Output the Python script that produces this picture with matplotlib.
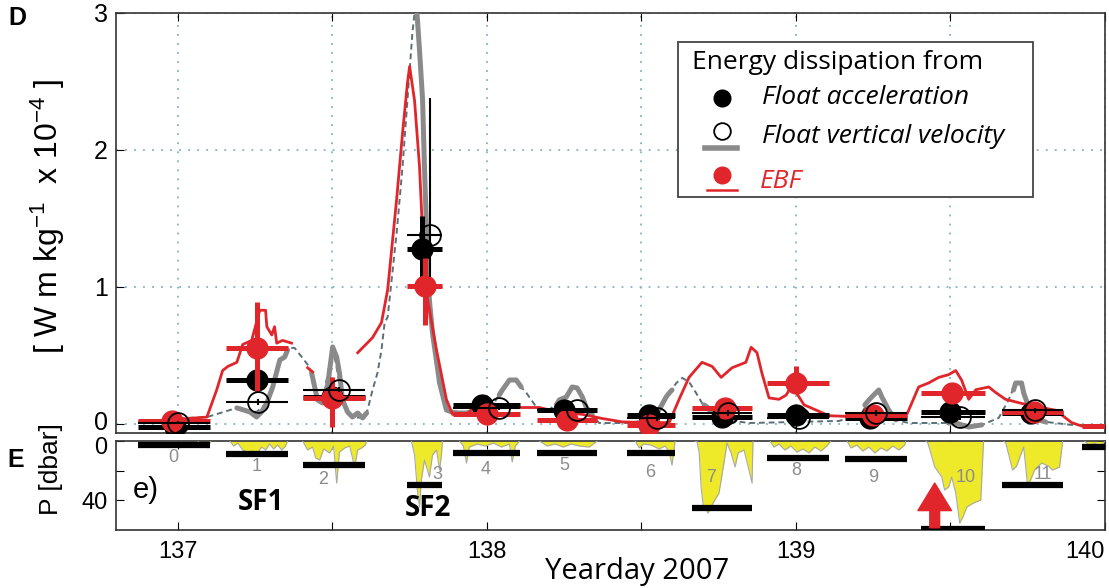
import numpy as np
import matplotlib.pyplot as plt
import matplotlib.transforms as mtransforms
from matplotlib.patches import Rectangle

plt.rcParams['font.family'] = ['Liberation Sans', 'DejaVu Sans']
plt.rcParams['mathtext.default'] = 'regular'

RED = '#e0262b'
GRAY = '#8a8a8a'
DASH = '#5b6f78'
GRID = '#7fb3c4'
YEL = '#eeea2a'
TXT = 'Open Sans'

# --- profile time spans (yearday) ---
prof_start = [136.871, 137.155, 137.404, 137.743, 137.889, 138.163, 138.454,
              138.664, 138.906, 139.158, 139.404, 139.666, 139.924]
prof_end = [137.103, 137.355, 137.607, 137.856, 138.108, 138.357, 138.609,
            138.858, 139.107, 139.359, 139.611, 139.863, 140.0]
prof_num = ['0', '1', '2', '3', '4', '5', '6', '7', '8', '9', '10', '11']
num_t = [136.985, 137.255, 137.47, 137.84, 137.995, 138.25, 138.53,
         138.725, 139.0, 139.25, 139.55, 139.80]
num_p = [11.5, 17.6, 26.4, 23.0, 19.0, 16.3, 21.0, 24.4, 19.7, 24.4, 25.0, 23.0]

# --- profile averaged dissipation (1e-4 W/kg) ---
acc_t = [136.99, 137.255, 137.50, 137.79, 137.985, 138.25, 138.525,
         138.76, 139.0, 139.24, 139.50, 139.76]
acc_e = [-0.02, 0.32, 0.20, 1.28, 0.14, 0.10, 0.065, 0.05, 0.065, 0.045, 0.09, 0.08]
acc_lo = [-0.04, 0.30, 0.18, 1.07, 0.12, 0.08, 0.045, 0.03, 0.045, 0.025, 0.07, 0.06]
acc_hi = [0.0, 0.34, 0.22, 1.52, 0.16, 0.12, 0.085, 0.07, 0.085, 0.065, 0.11, 0.10]

vel_t = [137.0, 137.258, 137.52, 137.815, 138.04, 138.29, 138.55,
         138.78, 139.01, 139.26, 139.53, 139.775]
vel_e = [0.01, 0.16, 0.25, 1.38, 0.12, 0.10, 0.04, 0.08, 0.04, 0.08, 0.05, 0.10]
vel_lo = [0.0, 0.14, 0.23, 1.07, 0.10, 0.08, 0.02, 0.06, 0.02, 0.06, 0.03, 0.08]
vel_hi = [0.02, 0.18, 0.27, 2.38, 0.14, 0.12, 0.06, 0.10, 0.06, 0.10, 0.07, 0.12]

ebf_t = [136.98, 137.255, 137.50, 137.80, 138.0, 138.26, 138.525,
         138.77, 139.0, 139.25, 139.505, 139.77, 140.04]
ebf_e = [0.02, 0.555, 0.19, 1.01, 0.07, 0.03, -0.01, 0.12, 0.30, 0.065, 0.225, 0.09, -0.015]
ebf_lo = [0.0, 0.23, -0.02, 0.72, 0.05, 0.01, -0.03, 0.10, 0.24, 0.045, 0.20, 0.07, -0.015]
ebf_hi = [0.04, 0.89, 0.34, 1.21, 0.09, 0.05, 0.01, 0.14, 0.42, 0.085, 0.25, 0.11, -0.015]

# --- continuous series ---
ebf_line_t = [136.877, 137.094, 137.126, 137.145, 137.162, 137.191, 137.21, 137.239,
              137.265, 137.284, 137.288, 137.304, 137.313, 137.32, 137.339, 137.368,
              137.39, 137.42, 137.436, 137.5,
              137.582, 137.63, 137.659, 137.679, 137.708, 137.727, 137.743, 137.75,
              137.766, 137.782, 137.792, 137.798, 137.808, 137.837, 137.869, 137.889,
              137.934, 137.976, 138.04, 138.095, 138.17, 138.225, 138.309, 138.373,
              138.438, 138.525, 138.59, 138.622, 138.654, 138.696, 138.729, 138.758,
              138.793, 138.838, 138.855, 138.874, 138.89, 138.913, 138.945, 138.968,
              138.987, 139.026, 139.107, 139.236, 139.359, 139.397, 139.43, 139.462,
              139.494, 139.517, 139.536, 139.559, 139.582, 139.624, 139.646, 139.678,
              139.73, 139.795, 139.84, 139.892, 139.924, 139.995]
ebf_line_e = [0.015, 0.05, 0.25, 0.39, 0.42, 0.45, 0.58, 0.61,
              0.83, 0.83, 0.71, 0.65, 0.71, 0.59, 0.61, 0.59,
              np.nan, 0.41, 0.38, np.nan,
              0.52, 0.63, 0.74, 0.98, 1.64, 2.12, 2.49, 2.61,
              2.36, 1.88, 1.39, 1.03, 0.91, 0.54, 0.18, 0.07,
              0.07, 0.16, 0.14, 0.12, 0.12, 0.09, 0.07, 0.04,
              0.015, 0.01, 0.01, 0.18, 0.34, 0.45, 0.42, 0.34,
              0.41, 0.45, 0.56, 0.52, 0.37, 0.19, 0.18, 0.21,
              0.28, 0.14, 0.06, 0.05, 0.07, 0.27, 0.30, 0.34,
              0.36, 0.39, 0.32, 0.18, 0.25, 0.27, 0.23, 0.18,
              0.15, 0.12, 0.10, 0.01, -0.015, -0.015]

w_t = [137.191, 137.233, 137.255, 137.271, 137.288, 137.307, 137.33, 137.346, 137.355,
       137.39,
       137.433, 137.452, 137.468, 137.485, 137.501, 137.514, 137.523, 137.533, 137.549,
       137.565, 137.582, 137.598, 137.611,
       137.7,
       137.772, 137.782, 137.792, 137.798, 137.805, 137.814, 137.824, 137.847, 137.869,
       137.895, 137.934, 137.976,
       138.0,
       138.04, 138.05, 138.073, 138.095, 138.111,
       138.2,
       138.225, 138.234, 138.257, 138.276, 138.292, 138.309, 138.321, 138.341,
       138.5,
       138.548, 138.557, 138.58, 138.59, 138.599,
       138.65,
       138.703, 138.725, 138.751, 138.774, 138.8,
       139.0,
       139.223, 139.236, 139.258, 139.268, 139.278, 139.3, 139.323,
       139.4,
       139.494, 139.517, 139.559, 139.601,
       139.65,
       139.704, 139.711, 139.73, 139.737, 139.753, 139.785, 139.808]
w_e = [0.117, 0.088, 0.051, 0.088, 0.153, 0.270, 0.467, 0.489, 0.540,
       np.nan,
       0.372, 0.175, 0.153, 0.285, 0.562, 0.489, 0.372, 0.175, 0.088,
       0.051, 0.080, 0.044, 0.080,
       np.nan,
       3.06, 2.73, 2.365, 1.876, 1.394, 0.905, 0.664, 0.299, 0.102,
       0.080, 0.080, 0.102,
       np.nan,
       0.212, 0.248, 0.321, 0.321, 0.270,
       np.nan,
       0.139, 0.175, 0.197, 0.270, 0.263, 0.197, 0.124, 0.066,
       np.nan,
       0.088, 0.102, 0.197, 0.226, 0.248,
       np.nan,
       0.139, 0.102, 0.044, 0.029, 0.022,
       np.nan,
       0.139, 0.175, 0.226, 0.248, 0.197, 0.102, 0.029,
       np.nan,
       0.007, 0.007, -0.022, -0.007,
       np.nan,
       0.248, 0.299, 0.299, 0.226, 0.124, 0.029, 0.015]

fit_t = [136.877, 137.029, 137.094, 137.191, 137.255, 137.288, 137.33, 137.362,
         137.378, 137.401, 137.426, 137.452, 137.468, 137.501, 137.533, 137.565,
         137.598, 137.614, 137.63, 137.646, 137.659, 137.669, 137.679, 137.708,
         137.727, 137.743, 137.759, 137.766, 137.772, 137.782, 137.792, 137.798,
         137.805, 137.814, 137.824, 137.847, 137.869, 137.934, 138.008, 138.05,
         138.073, 138.095, 138.111, 138.128, 138.16, 138.202, 138.234, 138.257,
         138.276, 138.292, 138.309, 138.321, 138.341, 138.363, 138.451, 138.525,
         138.557, 138.58, 138.59, 138.613, 138.632, 138.654, 138.677, 138.696,
         138.719, 138.774, 138.848, 139.01, 139.139, 139.21, 139.236, 139.258,
         139.268, 139.278, 139.3, 139.323, 139.365, 139.517, 139.559, 139.601,
         139.656, 139.688, 139.711, 139.73, 139.737, 139.753, 139.785, 139.808,
         139.892, 139.995]
fit_e = [0.015, 0.044, 0.05, 0.117, 0.088, 0.153, 0.467, 0.555,
         0.555, 0.489, 0.416, 0.175, 0.153, 0.569, 0.175, 0.051,
         0.044, 0.102, 0.248, 0.372, 0.540, 0.737, 0.781, 1.394,
         1.876, 2.365, 2.854, 3.0, 3.2, 2.73, 2.365, 1.876,
         1.394, 0.905, 0.664, 0.299, 0.102, 0.080, 0.102, 0.248,
         0.321, 0.321, 0.270, 0.226, 0.124, 0.102, 0.175, 0.197,
         0.270, 0.263, 0.197, 0.124, 0.066, 0.007, 0.007, 0.029,
         0.102, 0.197, 0.226, 0.299, 0.336, 0.307, 0.226, 0.153,
         0.088, 0.029, 0.007, 0.015, 0.022, 0.066, 0.175, 0.226,
         0.248, 0.197, 0.102, 0.029, 0.007, 0.007, -0.022, -0.007,
         0.044, 0.175, 0.299, 0.299, 0.226, 0.124, 0.029, 0.015,
         -0.007, -0.007]

# --- float pressure during each profile (dbar) ---
press_t = [
    [137.065, 137.078, 137.087, 137.097, 137.107],
    [137.168, 137.181, 137.194, 137.21, 137.226, 137.242, 137.258, 137.271, 137.284,
     137.297, 137.31, 137.323, 137.336, 137.349, 137.355],
    [137.404, 137.42, 137.436, 137.446, 137.459, 137.472, 137.491, 137.504, 137.514,
     137.523, 137.54, 137.556, 137.572, 137.582, 137.595, 137.607, 137.611],
    [137.756, 137.766, 137.775, 137.782, 137.788, 137.798, 137.808, 137.814, 137.824,
     137.837, 137.847, 137.853, 137.856],
    [137.911, 137.924, 137.934, 137.943, 137.969, 137.995, 138.021, 138.047, 138.073,
     138.082, 138.092, 138.105],
    [138.17, 138.195, 138.221, 138.247, 138.273, 138.299, 138.331, 138.357],
    [138.48, 138.493, 138.506, 138.531, 138.557, 138.577, 138.59, 138.599, 138.609],
    [138.674, 138.68, 138.687, 138.693, 138.7, 138.716, 138.732, 138.751, 138.767,
     138.777, 138.79, 138.803, 138.813, 138.832, 138.848, 138.858, 138.861],
    [138.916, 138.929, 138.945, 138.964, 138.984, 139.003, 139.023, 139.042, 139.061,
     139.081, 139.1, 139.113],
    [139.165, 139.178, 139.197, 139.216, 139.236, 139.255, 139.275, 139.294, 139.313,
     139.333, 139.352, 139.355],
    [139.42, 139.427, 139.449, 139.472, 139.481, 139.494, 139.504, 139.517, 139.53,
     139.54, 139.553, 139.575, 139.598, 139.607],
    [139.672, 139.679, 139.701, 139.714, 139.727, 139.737, 139.75, 139.772, 139.795,
     139.817, 139.83, 139.853, 139.863],
    [139.934, 139.947, 139.966, 139.985, 140.0],
]
press_p = [
    [0, 4.1, 1.4, 4.7, 0],
    [0, 3.4, 1.4, 6.1, 7.5, 6.8, 8.1, 4.1, 6.1, 2.0, 5.4, 2.7, 6.1, 3.4, 0],
    [0, 6.1, 4.1, 11.5, 12.9, 5.4, 8.1, 3.4, 28.5, 7.5, 4.7, 3.4, 17.6, 6.1, 4.7, 2.7, 0],
    [0, 9.5, 33.2, 44.7, 26.4, 12.9, 19.7, 24.4, 9.5, 6.1, 19.7, 9.5, 0],
    [0, 3.4, 14.9, 4.1, 2.0, 3.4, 1.4, 4.1, 2.0, 14.2, 3.4, 0],
    [0, 3.4, 2.0, 4.1, 2.0, 3.4, 4.1, 0],
    [0, 4.7, 2.0, 2.7, 5.4, 3.4, 7.5, 16.3, 0],
    [0, 0.7, 8.1, 31.2, 43.4, 48.8, 42.0, 35.3, 14.9, 1.4, 8.1, 17.6, 8.1, 6.1, 19.7,
     28.5, 0],
    [0, 4.1, 2.0, 6.1, 3.4, 7.5, 5.4, 8.1, 4.1, 6.8, 3.4, 0],
    [0, 4.7, 2.7, 6.8, 4.1, 8.1, 4.7, 6.8, 3.4, 6.1, 2.7, 0],
    [0, 1.4, 17.6, 24.4, 33.2, 31.2, 24.4, 35.3, 55.6, 51.5, 44.7, 42.0, 40.0, 0],
    [0, 1.4, 19.7, 17.0, 9.5, 4.1, 31.2, 19.7, 14.9, 17.0, 19.7, 17.6, 0],
    [0, 2.7, 1.4, 3.4, 0],
]
# mixed layer depth for each profile (dbar)
mld_p = [2.7, 8.8, 16.3, 29.8, 7.9, 7.9, 7.9, 45.5, 11.5, 12.2, 59.4, 29.8, 3.8]

fig = plt.figure(figsize=(11.09, 5.88), dpi=100)
ax = fig.add_axes([0.1046, 0.2636, 0.8918, 0.7143])
ax2 = fig.add_axes([0.1046, 0.0986, 0.8918, 0.1514], sharex=ax)

# ---------------- panel D ----------------
ax.plot(fit_t, fit_e, color=DASH, lw=1.4, dashes=(3, 2), zorder=2)
ax.plot(w_t, w_e, color=GRAY, lw=3.6, solid_capstyle='round', zorder=3)
ax.plot(ebf_line_t, ebf_line_e, color=RED, lw=2.0, zorder=4)

n = len(acc_e)
ax.hlines(acc_e, prof_start[:n], prof_end[:n], color='k', lw=3.6, zorder=5)
ax.vlines(acc_t, acc_lo, acc_hi, color='k', lw=3.6, zorder=5)
ax.plot(acc_t, acc_e, 'o', ms=15, color='k', zorder=5)

ax.hlines(ebf_e, prof_start, prof_end, color=RED, lw=3.6, zorder=6)
ax.vlines(ebf_t, ebf_lo, ebf_hi, color=RED, lw=3.6, zorder=6)
ax.plot(ebf_t, ebf_e, 'o', ms=15, color=RED, zorder=6)

ax.hlines(vel_e, prof_start[:n], prof_end[:n], color='k', lw=1.5, zorder=7)
ax.vlines(vel_t, vel_lo, vel_hi, color='k', lw=1.5, zorder=7)
ax.plot(vel_t, vel_e, 'o', ms=15, mfc='none', mec='k', mew=1.3, zorder=7)

ax.set_xlim(136.8, 140.0)
ax.set_ylim(-0.066, 3.0)
ax.set_yticks([0, 1, 2, 3])
ax.set_xticks(np.arange(137, 140.01, 0.5))
ax.grid(True, linestyle=(0, (1, 4)), color=GRID, lw=1.3)
ax.tick_params(direction='in', top=True, length=6, labelsize=18, pad=6,
               labelbottom=False)
for s in ax.spines.values():
    s.set_color('#333333')
    s.set_linewidth(1.2)

# legend box
ax.add_patch(Rectangle((0.568, 0.562), 0.359, 0.369, transform=ax.transAxes,
                       fc='white', ec='#444444', lw=1.3, zorder=10))
ax.text(0.582, 0.883, 'Energy dissipation from', transform=ax.transAxes,
        family=TXT, fontsize=19, va='center', zorder=11)
ax.plot(0.613, 0.798, 'o', ms=12, color='k', transform=ax.transAxes, zorder=11)
ax.plot(0.613, 0.719, 'o', ms=12, mfc='none', mec='k', mew=1.3,
        transform=ax.transAxes, zorder=11)
ax.plot([0.596, 0.628], [0.679, 0.679], color=GRAY, lw=4,
        transform=ax.transAxes, zorder=11)
ax.plot(0.613, 0.614, 'o', ms=12, color=RED, transform=ax.transAxes, zorder=11)
ax.plot([0.598, 0.628], [0.579, 0.579], color=RED, lw=1.8,
        transform=ax.transAxes, zorder=11)
ax.text(0.653, 0.798, 'Float acceleration', transform=ax.transAxes,
        family=TXT, style='italic', fontsize=19, va='center', zorder=11)
ax.text(0.653, 0.705, 'Float vertical velocity', transform=ax.transAxes,
        family=TXT, style='italic', fontsize=19, va='center', zorder=11)
ax.text(0.651, 0.598, 'EBF', transform=ax.transAxes, color=RED,
        family=TXT, style='italic', fontsize=19, va='center', zorder=11)

# ---------------- panel E ----------------
for t, p in zip(press_t, press_p):
    ax2.fill_between(t, 0, p, color=YEL, lw=0, zorder=2)
    ax2.plot(t, p, color='#a8a8a8', lw=0.8, zorder=3)
ax2.hlines(mld_p, prof_start, prof_end, color='k', lw=4.5, zorder=4)
for lab, t, p in zip(prof_num, num_t, num_p):
    ax2.text(t, p, lab, color='#8c8c8c', fontsize=13, ha='center', va='center',
             zorder=5)

ax2.annotate('', xy=(139.449, 28.5), xytext=(139.449, 58.8),
             arrowprops=dict(arrowstyle='simple,head_width=1.1,head_length=0.9,'
                                        'tail_width=0.32',
                             color=RED, mutation_scale=22, shrinkA=0, shrinkB=0),
             zorder=6)
ax2.text(136.855, 33, 'e)', fontsize=21, va='center', ha='left')
ax2.text(137.268, 41.4, 'SF1', family=TXT, weight='bold', fontsize=20,
         ha='center', va='center')
ax2.text(137.81, 46.0, 'SF2', family=TXT, weight='bold', fontsize=20,
         ha='center', va='center')

ax2.set_ylim(60.3, 0)
ax2.set_yticks([0, 20, 40])
ax2.set_yticklabels(['0', '', '40'])
ax2.set_xticks(np.arange(137, 140.01, 0.5))
ax2.set_xticklabels(['137', '', '138', '', '139', '', '140'])
ax2.get_xticklabels()[-1].set_horizontalalignment('right')
ax2.tick_params(direction='in', top=True, right=True, length=6, labelsize=17)
ax2.tick_params(axis='x', pad=8)
ax2.tick_params(axis='y', pad=6)
for s in ax2.spines.values():
    s.set_color('#333333')
    s.set_linewidth(1.2)

# nudge the two stacked "0" labels apart
up = mtransforms.ScaledTranslation(0, 3 / 100, fig.dpi_scale_trans)
down = mtransforms.ScaledTranslation(0, -4 / 100, fig.dpi_scale_trans)
lab0 = ax.get_yticklabels()[0]
lab0.set_transform(lab0.get_transform() + up)
lab0b = ax2.get_yticklabels()[0]
lab0b.set_transform(lab0b.get_transform() + down)

# labels
fig.text(0.008, 0.969, 'D', fontsize=18, weight='bold', va='center')
fig.text(0.007, 0.218, 'E', fontsize=18, weight='bold', va='center')
fig.text(0.043, 1 - 216 / 588, r'[ W m kg$^{-1}$  x 10$^{-4}$ ]', rotation=90,
         fontsize=23, ha='center', va='center')
fig.text(0.046, 1 - 469 / 588, 'P [dbar]', rotation=90, fontsize=19,
         ha='center', va='center')
fig.text(637 / 1109, 1 - 572 / 588, 'Yearday 2007', family=TXT, fontsize=21,
         ha='center', va='center')

fig.savefig('out.png', dpi=100)
